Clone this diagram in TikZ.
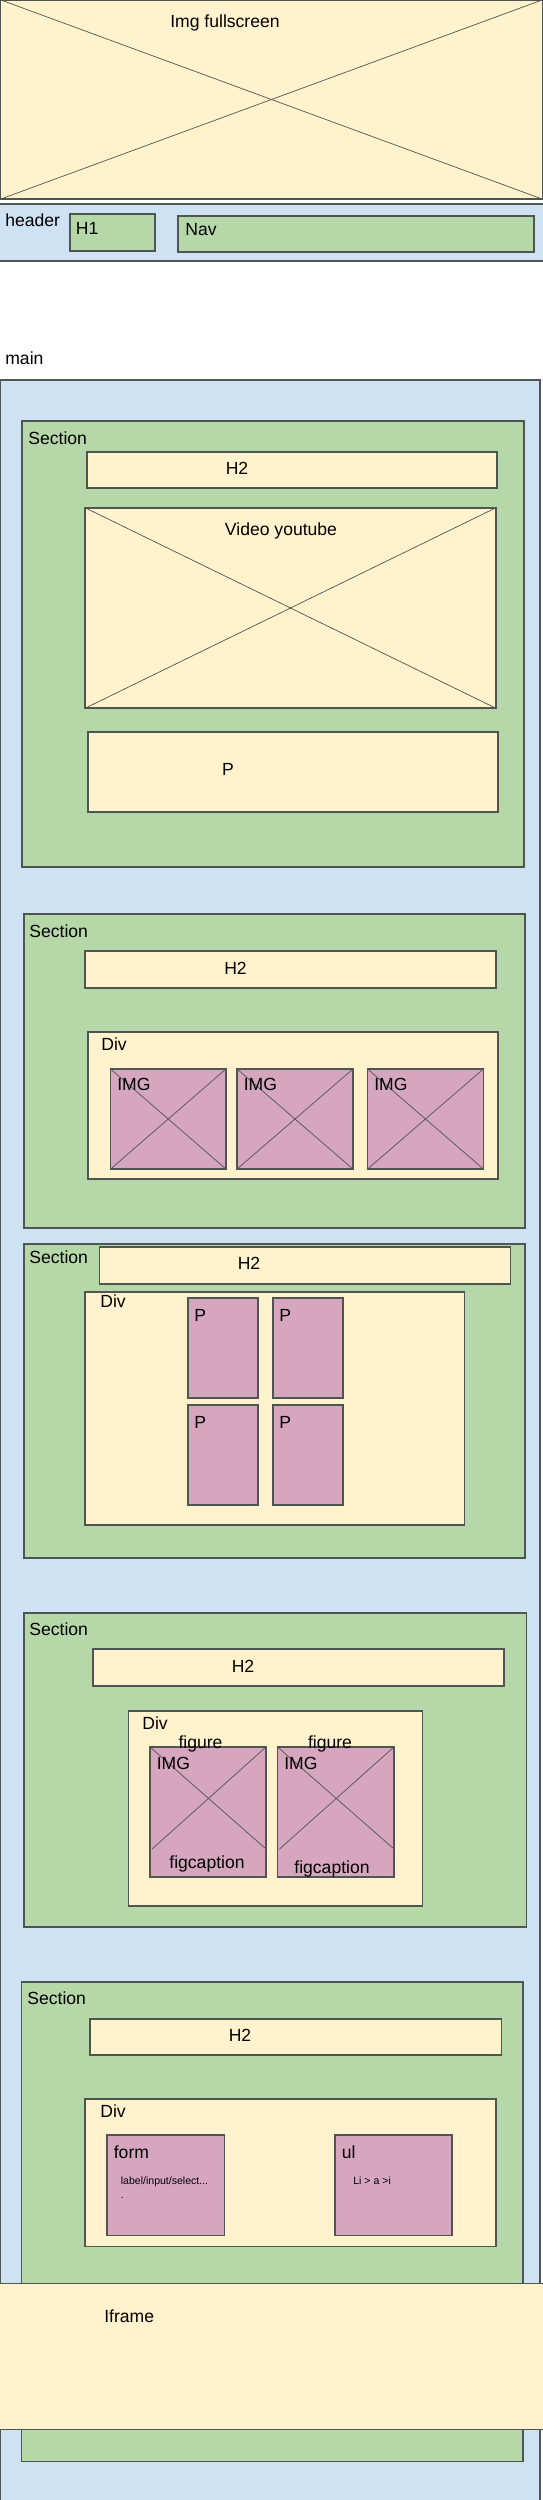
\documentclass[tikz,border=0pt]{standalone}
\usepackage{fontspec}
\setmainfont{Liberation Sans}
\usetikzlibrary{fit}

\definecolor{edge}{HTML}{4F5550}
\definecolor{paleyellow}{HTML}{FFF2CC}
\definecolor{palegreen}{HTML}{B6D7A8}
\definecolor{paleblue}{HTML}{CFE2F3}
\definecolor{palepink}{HTML}{D5A6BD}

\begin{document}
\begin{tikzpicture}[
  x=0.02cm, y=-0.02cm,
  font=\fontsize{10}{12}\selectfont,
  boxline/.style={draw=edge, line width=0.6pt, inner sep=0pt},
  yel/.style={boxline, fill=paleyellow},
  grn/.style={boxline, fill=palegreen},
  blu/.style={boxline, fill=paleblue},
  pnk/.style={boxline, fill=palepink},
  txt/.style={inner sep=0pt, text height=7.2pt, text depth=0pt},
  lbl/.style={txt, anchor=west},
  mini/.style={lbl, font=\fontsize{6}{7}\selectfont, text height=4.3pt},
  xline/.style={draw=edge, line width=0.4pt}
]
  \useasboundingbox (0,0) rectangle (543,2500);
  \clip (0,0) rectangle (543,2500);

  % hero image
  \node[yel, fit={(0,0) (543,199)}] (imgfull) {};
  \draw[xline] (imgfull.north west) -- (imgfull.south east);
  \draw[xline] (imgfull.north east) -- (imgfull.south west);
  \node[txt] (imgfull-t) at (225,21) {Img fullscreen};

  % header
  \node[blu, fit={(-2,204) (546,261)}] (header) {};
  \node[lbl] (header-t) at (5,220) {header};
  \node[grn, fit={(70,214) (155,251)}] (h1) {};
  \node[lbl] (h1-t) at (75.5,228) {H1};
  \node[grn, fit={(178,216) (534,252)}] (nav) {};
  \node[lbl] (nav-t) at (185,229) {Nav};

  % main
  \node[lbl] (main-t) at (5,358) {main};
  \node[blu, fit={(0,380) (540,2520)}] (main) {};

  % section 1: video
  \node[grn, fit={(22,421) (524,867)}] (sec1) {};
  \node[lbl] (sec1-t) at (28,438) {Section};
  \node[yel, fit={(87,452) (497,488)}] (sec1-h2) {};
  \node[txt] (sec1-h2t) at (237,468) {H2};
  \node[yel, fit={(85,508) (496,708)}] (video) {};
  \draw[xline] (video.north west) -- (video.south east);
  \draw[xline] (video.north east) -- (video.south west);
  \node[txt] (video-t) at (281,529) {Video youtube};
  \node[yel, fit={(88,732) (498,812)}] (sec1-p) {};
  \node[txt] (sec1-pt) at (228,769) {P};

  % section 2: images
  \node[grn, fit={(24,914) (525,1228)}] (sec2) {};
  \node[lbl] (sec2-t) at (29,931) {Section};
  \node[yel, fit={(85,951) (496,988)}] (sec2-h2) {};
  \node[txt] (sec2-h2t) at (235.5,968) {H2};
  \node[yel, fit={(88,1032) (498,1179)}] (sec2-div) {};
  \node[lbl] (sec2-divt) at (101,1044) {Div};
  \node[pnk, fit={(110.5,1069) (226,1169)}] (img1) {};
  \draw[xline] (img1.north west) -- (img1.south east);
  \draw[xline] (img1.north east) -- (img1.south west);
  \node[lbl] (img1-t) at (117,1084) {IMG};
  \node[pnk, fit={(237,1069) (353,1169)}] (img2) {};
  \draw[xline] (img2.north west) -- (img2.south east);
  \draw[xline] (img2.north east) -- (img2.south west);
  \node[lbl] (img2-t) at (243.5,1084) {IMG};
  \node[pnk, fit={(367.5,1069) (483.5,1169)}] (img3) {};
  \draw[xline] (img3.north west) -- (img3.south east);
  \draw[xline] (img3.north east) -- (img3.south west);
  \node[lbl] (img3-t) at (374,1084) {IMG};

  % section 3: paragraphs
  \node[grn, fit={(24,1244) (525,1558)}] (sec3) {};
  \node[lbl] (sec3-t) at (29,1257) {Section};
  \node[yel, fit={(99.5,1247) (510.5,1284)}] (sec3-h2) {};
  \node[txt] (sec3-h2t) at (249,1263) {H2};
  \node[yel, fit={(85,1292) (464.5,1525)}] (sec3-div) {};
  \node[lbl] (sec3-divt) at (100,1301) {Div};
  \node[pnk, fit={(188,1298) (258,1398)}] (p1) {};
  \node[lbl] (p1-t) at (194,1315) {P};
  \node[pnk, fit={(273,1298) (343,1398)}] (p2) {};
  \node[lbl] (p2-t) at (279,1315) {P};
  \node[pnk, fit={(188,1405) (258,1505)}] (p3) {};
  \node[lbl] (p3-t) at (194,1422) {P};
  \node[pnk, fit={(273,1405) (343,1505)}] (p4) {};
  \node[lbl] (p4-t) at (279,1422) {P};

  % section 4: figures
  \node[grn, fit={(24,1613) (526.5,1927)}] (sec4) {};
  \node[lbl] (sec4-t) at (29,1629) {Section};
  \node[yel, fit={(93,1649) (504,1686)}] (sec4-h2) {};
  \node[txt] (sec4-h2t) at (243,1666) {H2};
  \node[yel, fit={(128.5,1711) (422.5,1906)}] (sec4-div) {};
  \node[lbl] (sec4-divt) at (142,1723) {Div};
  \node[pnk, fit={(150,1747) (266,1877)}] (fig1) {};
  \coordinate (fig1-a) at (266,1849);
  \coordinate (fig1-b) at (152,1849);
  \draw[xline] (fig1.north west) -- (fig1-a);
  \draw[xline] (fig1.north east) -- (fig1-b);
  \node[txt] (fig1-t) at (200.5,1742) {figure};
  \node[lbl] (fig1-img) at (156.5,1763) {IMG};
  \node[txt] (fig1-cap) at (207,1862) {figcaption};
  \node[pnk, fit={(277.5,1747) (394,1877)}] (fig2) {};
  \coordinate (fig2-a) at (394,1849);
  \coordinate (fig2-b) at (279.5,1849);
  \draw[xline] (fig2.north west) -- (fig2-a);
  \draw[xline] (fig2.north east) -- (fig2-b);
  \node[txt] (fig2-t) at (330,1742) {figure};
  \node[lbl] (fig2-img) at (284,1763) {IMG};
  \node[txt] (fig2-cap) at (332,1867) {figcaption};

  % section 5: form and list
  \node[grn, fit={(21.5,1982) (523,2461)}] (sec5) {};
  \node[lbl] (sec5-t) at (27,1998) {Section};
  \node[yel, fit={(90,2019) (501.5,2055)}] (sec5-h2) {};
  \node[txt] (sec5-h2t) at (240,2035) {H2};
  \node[yel, fit={(85,2099) (496,2246)}] (sec5-div) {};
  \node[lbl] (sec5-divt) at (100,2111) {Div};
  \node[pnk, fit={(107,2135) (224.5,2235)}] (form) {};
  \node[lbl] (form-t) at (113.5,2152) {form};
  \node[mini] (form-x) at (120.5,2181) {label/input/select...};
  \node[mini] (form-y) at (120.5,2195) {.};
  \node[pnk, fit={(335,2135) (452,2235)}] (ul) {};
  \node[lbl] (ul-t) at (341.5,2152) {ul};
  \node[mini] (ul-x) at (353,2181) {Li > a >i};

  % iframe
  \node[yel, fit={(-2,2283) (546,2429)}] (iframe) {};
  \node[lbl] (iframe-t) at (104,2316) {Iframe};
\end{tikzpicture}
\end{document}
